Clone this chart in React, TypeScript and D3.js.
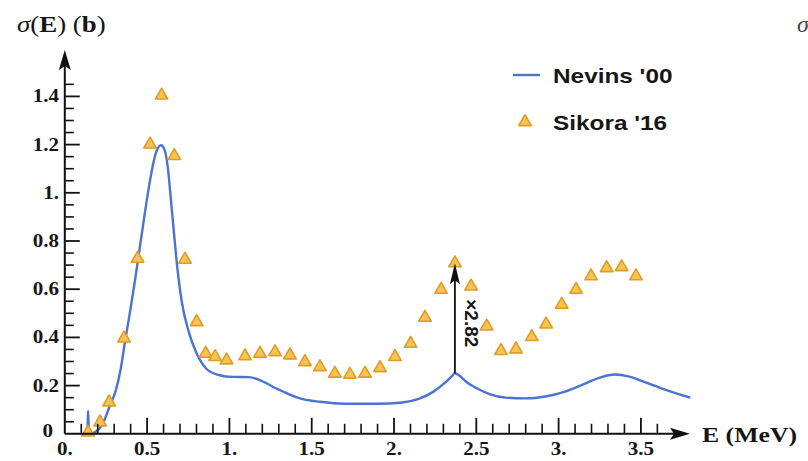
import React from "react";
import * as d3 from "d3";

// Nevins '00 cross section curve (E in MeV, sigma in b)
const nevinsE = [
  0.138, 0.142, 0.146, 0.17, 0.19, 0.23, 0.27, 0.31, 0.34, 0.365, 0.395, 0.425,
  0.455, 0.485, 0.515, 0.54, 0.565, 0.585, 0.605, 0.625, 0.645, 0.665, 0.685,
  0.71, 0.75, 0.8, 0.86, 0.94, 1.02, 1.12, 1.2, 1.28, 1.36, 1.44, 1.55, 1.7,
  1.9, 2.05, 2.15, 2.24, 2.31, 2.35, 2.37, 2.4, 2.44, 2.5, 2.58, 2.68, 2.8,
  2.92, 3.04, 3.15, 3.25, 3.34, 3.43, 3.52, 3.62, 3.72, 3.8,
];
const nevinsSigma = [
  0.0, 0.095, 0.004, 0.003, 0.01, 0.04, 0.11, 0.18, 0.27, 0.38, 0.5, 0.63,
  0.77, 0.91, 1.04, 1.13, 1.185, 1.197, 1.18, 1.11, 0.97, 0.82, 0.68, 0.55,
  0.43, 0.335, 0.27, 0.243, 0.236, 0.235, 0.218, 0.19, 0.165, 0.145, 0.133,
  0.125, 0.125, 0.13, 0.145, 0.175, 0.212, 0.238, 0.251, 0.24, 0.215, 0.19,
  0.165, 0.15, 0.147, 0.155, 0.175, 0.205, 0.233, 0.246, 0.237, 0.215, 0.19,
  0.167, 0.15,
];

// Sikora '16 measured points
const sikoraE = [
  0.141, 0.214, 0.269, 0.36, 0.442, 0.518, 0.588, 0.665, 0.73, 0.801, 0.856,
  0.913, 0.983, 1.095, 1.186, 1.277, 1.368, 1.459, 1.55, 1.641, 1.732, 1.824,
  1.915, 2.006, 2.101, 2.188, 2.286, 2.37, 2.468, 2.563, 2.65, 2.741, 2.837,
  2.924, 3.019, 3.106, 3.197, 3.292, 3.383, 3.47,
];
const sikoraSigma = [
  0.006, 0.048, 0.131, 0.396, 0.727, 1.201, 1.404, 1.153, 0.723, 0.464, 0.333,
  0.319, 0.305, 0.322, 0.333, 0.339, 0.326, 0.298, 0.277, 0.25, 0.246, 0.25,
  0.273, 0.319, 0.374, 0.482, 0.598, 0.708, 0.612, 0.446, 0.344, 0.351, 0.402,
  0.454, 0.536, 0.598, 0.654, 0.688, 0.692, 0.654,
];

// Scaling annotation at the 2.37 MeV peak
const peakE = 2.37;
const peakSigma = 0.251;
const peakFactor = 2.82;

const xTickValues = [0, 0.5, 1, 1.5, 2, 2.5, 3, 3.5];
const xTickLabels = ["0.", "0.5", "1.", "1.5", "2.", "2.5", "3.", "3.5"];
const yTickValues = [0, 0.2, 0.4, 0.6, 0.8, 1, 1.2, 1.4];
const yTickLabels = ["0", "0.2", "0.4", "0.6", "0.8", "1.", "1.2", "1.4"];

const seriesNames = ["Nevins '00", "Sikora '16"];

const W = 808;
const H = 461;
const BLUE = "#4a74d0";
const ORANGE = "#e19c24";
const SX = 1.17; // horizontal stretch of lettering
const serif = "'Liberation Serif', 'DejaVu Serif', serif";
const sans = "'Liberation Sans', Arial, sans-serif";

function SText({
  x,
  y,
  anchor = "start",
  size,
  family,
  weight = "bold",
  sx = SX,
  children,
}: any) {
  return (
    <text
      transform={`translate(${x},${y}) scale(${sx},1)`}
      textAnchor={anchor}
      fontSize={size}
      fontFamily={family}
      fontWeight={weight}
      fill="#161616"
    >
      {children}
    </text>
  );
}

export default function App() {
  const x = d3.scaleLinear().domain([0, 3.5]).range([64.8, 640.9]);
  const y = d3.scaleLinear().domain([0, 1.4]).range([433.8, 96.4]);

  const x0 = x(0);
  const y0 = y(0);
  const xEnd = 690;
  const yEnd = 50;

  const xMinor = d3.range(1, 37).map((i) => i / 10).filter((v) => Math.abs(v * 2 - Math.round(v * 2)) > 1e-6);
  const yMinor = d3.range(1, 30).map((i) => i / 20).filter((v) => Math.abs(v * 5 - Math.round(v * 5)) > 1e-6);

  const nevins = nevinsE.map((e, i) => [e, nevinsSigma[i]] as [number, number]);
  const line = d3
    .line<[number, number]>()
    .x((d) => x(d[0]))
    .y((d) => y(d[1]))
    .curve(d3.curveMonotoneX);

  const tri = d3.symbol().type(d3.symbolTriangle).size(68)() as string;

  const ax = x(peakE);
  const aTop = y(peakSigma * peakFactor);
  const aBot = y(peakSigma);

  return (
    <svg
      width={W}
      height={H}
      style={{ position: "absolute", left: 0, top: 0, background: "#fff" }}
    >
      <rect width={W} height={H} fill="#fff" />

      {/* title */}
      <text
        transform={`translate(17,32) scale(1.12,1)`}
        fontSize={24}
        fontFamily={serif}
        fill="#161616"
      >
        <tspan fontStyle="italic">σ</tspan>
        <tspan>(</tspan>
        <tspan fontWeight="bold">E</tspan>
        <tspan>) (</tspan>
        <tspan fontWeight="bold">b</tspan>
        <tspan>)</tspan>
      </text>
      {/* neighbouring panel title, cut by the edge */}
      <text
        x={797}
        y={32}
        fontSize={24}
        fontStyle="italic"
        fontFamily={serif}
        fill="#444"
      >
        σ
      </text>

      {/* Nevins curve */}
      <path d={line(nevins) || ""} fill="none" stroke={BLUE} strokeWidth={2.4} strokeLinejoin="round" />

      {/* Sikora points */}
      {sikoraE.map((e, i) => (
        <path
          key={i}
          d={tri}
          transform={`translate(${x(e)},${y(sikoraSigma[i])})`}
          fill="#f6c456"
          stroke={ORANGE}
          strokeWidth={1.6}
          strokeLinejoin="round"
        />
      ))}

      {/* axes */}
      <g stroke="#111" strokeWidth={2}>
        <line x1={x0} y1={y0} x2={xEnd - 14} y2={y0} />
        <line x1={x0} y1={y0} x2={x0} y2={yEnd + 12} />
        {xTickValues.slice(1).map((v) => (
          <line key={"xM" + v} x1={x(v)} x2={x(v)} y1={y0} y2={y0 - 16} strokeWidth={1.8} />
        ))}
        {xMinor.map((v) => (
          <line key={"xm" + v} x1={x(v)} x2={x(v)} y1={y0} y2={y0 - 10} strokeWidth={1.6} />
        ))}
        {yTickValues.slice(1).map((v) => (
          <line key={"yM" + v} x1={x0} x2={x0 + 15} y1={y(v)} y2={y(v)} strokeWidth={1.8} />
        ))}
        {yMinor.map((v) => (
          <line key={"ym" + v} x1={x0} x2={x0 + 9} y1={y(v)} y2={y(v)} strokeWidth={1.6} />
        ))}
      </g>
      <path d={`M${xEnd},${y0} L${xEnd - 20},${y0 - 6} L${xEnd - 16},${y0} L${xEnd - 20},${y0 + 6} Z`} fill="#111" />
      <path d={`M${x0},${yEnd} L${x0 - 6},${yEnd + 20} L${x0},${yEnd + 16} L${x0 + 6},${yEnd + 20} Z`} fill="#111" />

      {/* tick labels */}
      {xTickValues.map((v, i) => (
        <SText key={"xl" + v} x={x(v)} y={455} anchor="middle" size={18} family={serif}>
          {xTickLabels[i]}
        </SText>
      ))}
      {yTickValues.map((v, i) => (
        <SText key={"yl" + v} x={v === 0 ? 53 : 59} y={y(v) + 6 - (v === 0 ? 3 : 0)} anchor="end" size={18} family={serif}>
          {yTickLabels[i]}
        </SText>
      ))}

      {/* x axis title */}
      <text
        transform={`translate(702,442) scale(1.17,1)`}
        fontSize={22}
        fontFamily={serif}
        fontWeight="bold"
        fill="#161616"
      >
        E (MeV)
      </text>

      {/* peak scaling arrow */}
      <line x1={ax} x2={ax} y1={aBot} y2={aTop + 16} stroke="#111" strokeWidth={1.8} />
      <path d={`M${ax},${aTop} L${ax - 5},${aTop + 21} L${ax},${aTop + 17} L${ax + 5},${aTop + 21} Z`} fill="#111" />
      <text
        transform={`translate(${ax + 10},${aTop + 36}) rotate(90)`}
        fontSize={19}
        fontFamily={sans}
        fontWeight="bold"
        fill="#161616"
      >
        {"×" + peakFactor.toFixed(2)}
      </text>

      {/* legend */}
      <line x1={513} x2={540} y1={75} y2={75} stroke={BLUE} strokeWidth={2.4} />
      <SText x={553} y={83} size={21} family={sans} sx={1.16}>
        {seriesNames[0]}
      </SText>
      <path d={tri} transform="translate(525,122)" fill="#f6c456" stroke={ORANGE} strokeWidth={1.6} strokeLinejoin="round" />
      <SText x={553} y={130} size={21} family={sans} sx={1.16}>
        {seriesNames[1]}
      </SText>
    </svg>
  );
}
